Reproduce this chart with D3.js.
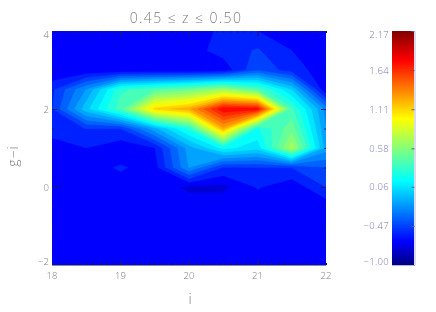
<!DOCTYPE html>
<html>

<head>
	<meta charset="utf-8">
	<title>0.45 z 0.50</title>
	<style>
		body {
			margin: 0;
			background: #fff;
		}
		svg {
			display: block;
		}
		text {
			font-family: "Open Sans", sans-serif;
			font-weight: 300;
		}
		.labels {
			opacity: 0.99;
		}
		.label {
			fill: #7d7d7d;
		}
		.barlabel {
			fill: #7676b4;
		}
		.axis path {
			fill: none;
		}
	</style>
</head>

<body>
	<div id="graph"></div>

	<script src="https://cdnjs.cloudflare.com/ajax/libs/d3/7.8.5/d3.min.js"></script>

	<script type="text/javascript">

		// grid of the contour plot
		var iValues = [18, 18.5, 19, 19.5, 20, 20.5, 21, 21.5, 22];
		var giValues = [4, 3.5, 3, 2.5, 2, 1.5, 1, 0.5, 0, -0.5, -1, -1.5, -2];
		var density = [
			[-0.62, -0.62, -0.62, -0.62, -0.65, -0.55, -0.577, -0.62, -0.62],
			[-0.62, -0.62, -0.62, -0.62, -0.63, -0.53, -0.46, -0.577, -0.62],
			[-0.68, -0.68, -0.68, -0.68, -0.68, -0.65, -0.38, -0.53, -0.63],
			[-0.50, -0.15, 0.35, 0.45, 0.55, 0.70, 0.45, 0.05, -0.68],
			[-0.48, 0.02, 0.43, 1.15, 1.30, 1.84, 1.82, 0.40, -0.20],
			[-0.50, -0.47, -0.47, -0.08, 0.30, 1.30, 0.25, 0.55, -0.15],
			[-0.66, -0.577, -0.65, -0.577, -0.10, 0.20, 0.10, 0.75, -0.10],
			[-0.62, -0.62, -0.565, -0.62, -0.15, -0.48, -0.47, -0.47, -0.37],
			[-0.62, -0.62, -0.62, -0.62, -0.71, -0.71, -0.565, -0.65, -0.47],
			[-0.62, -0.62, -0.62, -0.62, -0.62, -0.62, -0.65, -0.65, -0.65],
			[-0.62, -0.62, -0.62, -0.62, -0.62, -0.62, -0.62, -0.62, -0.62],
			[-0.62, -0.62, -0.62, -0.62, -0.62, -0.62, -0.62, -0.62, -0.62],
			[-0.62, -0.62, -0.62, -0.62, -0.62, -0.62, -0.62, -0.62, -0.62]
		];
		var xTickLabels = ["18", "19", "20", "21", "22"];
		var yTickLabels = ["\u22122", "0", "2", "4"];
		var yTicks = [-2, 0, 2, 4];
		var barTickLabels = ["\u22121.00", "\u22120.47", "0.06", "0.58", "1.11", "1.64", "2.17"];
		var barTicks = [-1, -0.47, 0.06, 0.58, 1.11, 1.64, 2.17];
		var levelCount = 30;

		var plot = { left: 52, right: 326, top: 31, bottom: 265 };
		var bar = { left: 392, right: 414 };

		var svg = d3.select("#graph").append("svg")
			.attr("width", 436)
			.attr("height", 312);

		var xScale = d3.scaleLinear().domain([18, 22]).range([plot.left, plot.right]);
		var yScale = d3.scaleLinear().domain([-2, 4]).range([plot.bottom, plot.top]);
		var barScale = d3.scaleLinear().domain([-1, 2.17]).range([plot.bottom, plot.top]);

		// jet colour table
		var jetStops = [0, 0.1, 0.36, 0.625, 0.875, 1];
		var jetColors = ["#000080", "#0000ff", "#00ffff", "#ffff00", "#ff0000", "#800000"];
		var jet = d3.scaleLinear()
			.domain(jetStops.map(function(t) { return -1 + t * 3.17; }))
			.range(jetColors);

		var levels = d3.range(levelCount).map(function(k) {
			return -1 + k * 3.17 / levelCount;
		});

		// d3.contours puts value k at k + 0.5
		var project = d3.geoTransform({
			point: function(cx, cy) {
				var i = 18 + (cx - 0.5) * 0.5;
				var g = 4 - (cy - 0.5) * 0.5;
				this.stream.point(xScale(i), yScale(g));
			}
		});

		var contours = d3.contours()
			.size([iValues.length, giValues.length])
			.thresholds(levels)
			(d3.merge(density));

		svg.append("clipPath")
			.attr("id", "plotclip")
			.append("rect")
			.attr("x", plot.left)
			.attr("y", plot.top)
			.attr("width", plot.right - plot.left)
			.attr("height", plot.bottom - plot.top);

		svg.append("g")
			.attr("clip-path", "url(#plotclip)")
			.selectAll("path")
			.data(contours)
			.enter()
			.append("path")
			.attr("d", d3.geoPath(project))
			.attr("fill", function(d) { return jet(d.value); })
			.attr("stroke", function(d) { return jet(d.value); })
			.attr("stroke-width", 0.3);

		// ticks around the plot
		function addAxis(maker, scale, values, size, translate, color) {
			svg.append("g")
				.attr("class", "axis")
				.attr("transform", "translate(" + translate + ")")
				.call(maker(scale).tickValues(values).tickSize(size).tickFormat("").tickSizeOuter(0))
				.call(function(g) {
					g.selectAll("line").attr("stroke", color);
					g.select(".domain").attr("stroke", "none");
				});
		}

		var xMinor = d3.range(18, 22.01, 0.1).map(function(v) { return +v.toFixed(1); });
		var xMajor = [19, 20, 21];
		var yMinor = d3.range(-2, 4.01, 0.5);
		var yMajor = [0, 2];
		var tickColor = "#1a1a66";

		addAxis(d3.axisTop, xScale, xMinor, 2, "0," + plot.bottom, tickColor);
		addAxis(d3.axisTop, xScale, xMajor, 5, "0," + plot.bottom, tickColor);
		addAxis(d3.axisBottom, xScale, xMinor, 2, "0," + plot.top, tickColor);
		addAxis(d3.axisBottom, xScale, xMajor, 5, "0," + plot.top, tickColor);
		addAxis(d3.axisRight, yScale, yMinor, 2, plot.left + ",0", tickColor);
		addAxis(d3.axisRight, yScale, yMajor, 5, plot.left + ",0", tickColor);
		addAxis(d3.axisLeft, yScale, yMinor, 2, plot.right + ",0", tickColor);
		addAxis(d3.axisLeft, yScale, yMajor, 5, plot.right + ",0", tickColor);

		svg.append("line")
			.attr("x1", plot.left).attr("x2", plot.right)
			.attr("y1", plot.bottom + 0.5).attr("y2", plot.bottom + 0.5)
			.attr("stroke", "#8c8c8c");

		// end labels sit inside the axis range, the rest centre on their tick
		function labelY(scale, v) {
			var y = scale(v);
			if (y <= plot.top) return y + 6.5;
			if (y >= plot.bottom) return y - 0.5;
			return y + 3.5;
		}

		var labels = svg.append("g").attr("class", "labels");

		labels.append("g").selectAll("text")
			.data(xTickLabels)
			.enter()
			.append("text")
			.attr("class", "label")
			.attr("text-anchor", "middle")
			.attr("font-size", 9.5)
			.attr("x", function(d) { return xScale(+d); })
			.attr("y", 279)
			.text(function(d) { return d; });

		labels.append("g").selectAll("text")
			.data(yTickLabels)
			.enter()
			.append("text")
			.attr("class", "label")
			.attr("text-anchor", "end")
			.attr("font-size", 9.5)
			.attr("x", 49)
			.attr("y", function(d, i) { return labelY(yScale, yTicks[i]); })
			.text(function(d) { return d; });

		labels.append("text")
			.attr("class", "label")
			.attr("text-anchor", "middle")
			.attr("font-size", 14)
			.attr("letter-spacing", 1.4)
			.attr("x", 186)
			.attr("y", 23)
			.text("0.45 \u2264 z \u2264 0.50");

		labels.append("text")
			.attr("class", "label")
			.attr("text-anchor", "middle")
			.attr("font-size", 14)
			.attr("x", 190)
			.attr("y", 304)
			.text("i");

		labels.append("text")
			.attr("class", "label")
			.attr("text-anchor", "middle")
			.attr("font-size", 14)
			.attr("letter-spacing", 1)
			.attr("transform", "translate(18,156) rotate(-90)")
			.text("g\u2212i");

		// colour bar
		var gradient = svg.append("linearGradient")
			.attr("id", "jetbar")
			.attr("x1", 0).attr("x2", 0)
			.attr("y1", 1).attr("y2", 0);

		gradient.selectAll("stop")
			.data(jetStops)
			.enter()
			.append("stop")
			.attr("offset", function(d) { return d; })
			.attr("stop-color", function(d, i) { return jetColors[i]; });

		svg.append("rect")
			.attr("x", bar.left)
			.attr("y", plot.top)
			.attr("width", bar.right - bar.left)
			.attr("height", plot.bottom - plot.top)
			.attr("fill", "url(#jetbar)");

		svg.append("g")
			.attr("class", "axis")
			.attr("transform", "translate(" + (bar.right + 0.5) + ",0)")
			.call(d3.axisLeft(barScale).tickValues(barTicks).tickSize(3).tickFormat("").tickSizeOuter(0))
			.call(function(g) {
				g.selectAll("line").attr("stroke", "#5a5a90");
				g.select(".domain").attr("stroke", "#b4b4e0");
			});

		svg.append("line")
			.attr("x1", bar.left).attr("x2", bar.right)
			.attr("y1", plot.bottom + 0.5).attr("y2", plot.bottom + 0.5)
			.attr("stroke", "#b4b4e0");

		labels.append("g").selectAll("text")
			.data(barTickLabels)
			.enter()
			.append("text")
			.attr("class", "barlabel")
			.attr("text-anchor", "end")
			.attr("font-size", 9.5)
			.attr("letter-spacing", 0.3)
			.attr("x", 389)
			.attr("y", function(d, i) { return labelY(barScale, barTicks[i]); })
			.text(function(d) { return d; });

	</script>

</body>

</html>
